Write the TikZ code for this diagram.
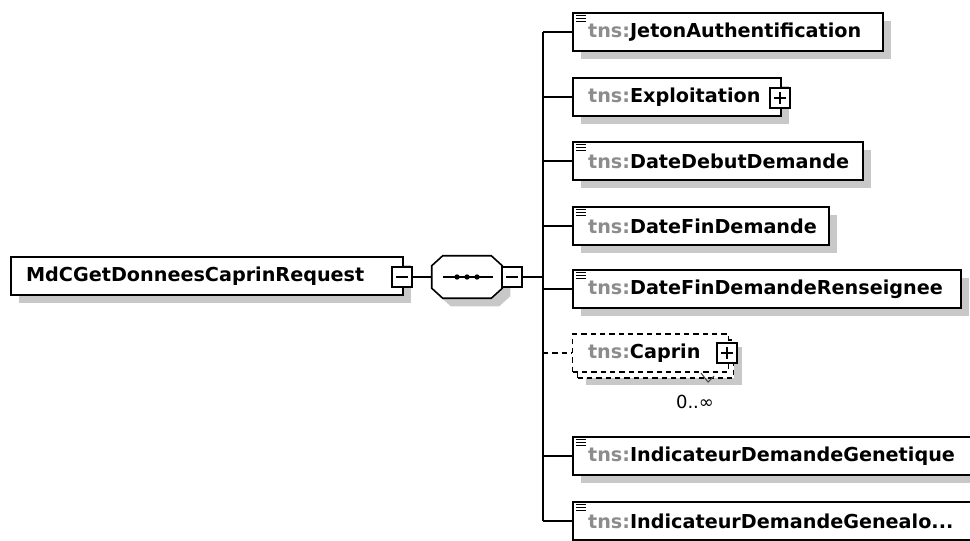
\documentclass[tikz,border=0pt]{standalone}
\usepackage{fontspec}
\newfontfamily\xsdfont{DejaVu Sans}
\usetikzlibrary{shadows}

\definecolor{tnsgray}{RGB}{140,140,140}
\definecolor{shadegray}{RGB}{200,200,200}
\newcommand{\tns}[1]{\textcolor{tnsgray}{tns:}#1}
\newcommand{\docicon}[1]{\draw[line width=0.9pt] foreach \dy in {3,6,9} {([shift={(4,\dy)}]#1.north west) -- ++(10,0)};}

\tikzset{
  elem/.style={draw, line width=1.2pt, fill=white, anchor=west, align=left,
    text width=#1, inner xsep=11.5pt, inner ysep=0pt, minimum height=28.5pt,
    font=\xsdfont\bfseries\fontsize{14.4}{17}\selectfont},
  dropped/.style={drop shadow={shadow xshift=6pt, shadow yshift=-6pt, fill=shadegray, opacity=1}},
  multi/.style={dash pattern=on 4pt off 3pt, line width=1pt,
    drop shadow={shadow xshift=9.75pt, shadow yshift=-10pt, fill=shadegray, opacity=1},
    copy shadow={shadow xshift=3.75pt, shadow yshift=-4.5pt, draw=black, fill=white, dash pattern=on 4pt off 3pt}},
  seqbox/.style={minimum width=52.5pt, minimum height=31.5pt, inner sep=0pt},
  octagon/.style={insert path={([xshift=8.25pt]#1.north west) -- ([xshift=-8.25pt]#1.north east)
    -- ([yshift=-7.5pt]#1.north east) -- ([yshift=7.5pt]#1.south east)
    -- ([xshift=-8.25pt]#1.south east) -- ([xshift=8.25pt]#1.south west)
    -- ([yshift=7.5pt]#1.south west) -- ([yshift=-7.5pt]#1.north west) -- cycle}},
  minusbox/.style={draw, line width=1pt, fill=white, minimum size=15pt, inner sep=0pt,
    path picture={\draw[line width=1pt] ([xshift=3pt]path picture bounding box.west) -- ([xshift=-3pt]path picture bounding box.east);}},
  plusbox/.style={draw, line width=1pt, fill=white, minimum size=15pt, inner sep=0pt,
    path picture={\draw[line width=1pt] ([xshift=3pt]path picture bounding box.west) -- ([xshift=-3pt]path picture bounding box.east)
      ([yshift=-3pt]path picture bounding box.north) -- ([yshift=3pt]path picture bounding box.south);}},
  wire/.style={line width=1pt}
}

\begin{document}
\begin{tikzpicture}[x=0.75pt, y=-0.75pt]
  \fill[white] (0,0) rectangle (970,541);
  \useasboundingbox (0,0) rectangle (970,541);
  \clip (0,0) rectangle (970,541);

  \node[elem=271pt, dropped] (root) at (10,276) {MdCGetDonneesCaprinRequest};
  \node[minusbox] (rootsign) at (402,277) {};
  \node[seqbox] (seq) at (467,277) {};
  \draw[dropped, line width=1.2pt, fill=white, octagon=seq];
  \draw[line width=1pt] ([xshift=-18pt]seq.center) -- ([xshift=19.5pt]seq.center);
  \fill foreach \dx in {-7.5,0,7.5} {([xshift=\dx pt]seq.center) circle (2pt)};
  \node[minusbox] (seqsign) at (512,277) {};
  \coordinate (bus) at (543,277);

  \node[elem=209.5pt, dropped] (jeton)        at (572,32)  {\tns{JetonAuthentification}};
  \node[elem=133pt,   dropped] (exploitation) at (572,97)  {\tns{Exploitation}};
  \node[plusbox] (expsign) at (780,98) {};
  \node[elem=194.5pt, dropped] (datedebut)    at (572,161) {\tns{DateDebutDemande}};
  \node[elem=169pt,   dropped] (datefin)      at (572,226) {\tns{DateFinDemande}};
  \node[elem=268pt,   dropped] (renseignee)   at (572,289) {\tns{DateFinDemandeRenseignee}};
  \node[elem=94pt,    multi]   (caprin)       at (572,353) {\tns{Caprin}};
  \node[plusbox] (caprinsign) at (727,353) {};
  \draw[line width=0.8pt, black!70] (701,373) -- (708,382) -- (714,376);
  \node[font=\xsdfont\fontsize{13.5}{15}\selectfont] (caprinocc) at (695,402) {0..∞};
  \node[elem=292pt,   dropped] (genetique)    at (572,456) {\tns{IndicateurDemandeGenetique}};
  \node[elem=292pt,   dropped] (genealo)      at (572,521) {\tns{IndicateurDemandeGenealo...}};

  \foreach \n in {jeton,datedebut,datefin,renseignee,genetique,genealo} {\docicon{\n}}

  \draw[wire] (rootsign.east) -- (seq.west);
  \draw[wire] (seqsign.east) -- (bus);
  \draw[wire] (bus |- jeton.west) -- (bus |- genealo.west);
  \foreach \n in {jeton,exploitation,datedebut,datefin,renseignee,genetique,genealo}
    \draw[wire] (bus |- \n.west) -- (\n.west);
  \draw[wire, dash pattern=on 4pt off 3pt] (bus |- caprin.west) -- (caprin.west);
\end{tikzpicture}
\end{document}
